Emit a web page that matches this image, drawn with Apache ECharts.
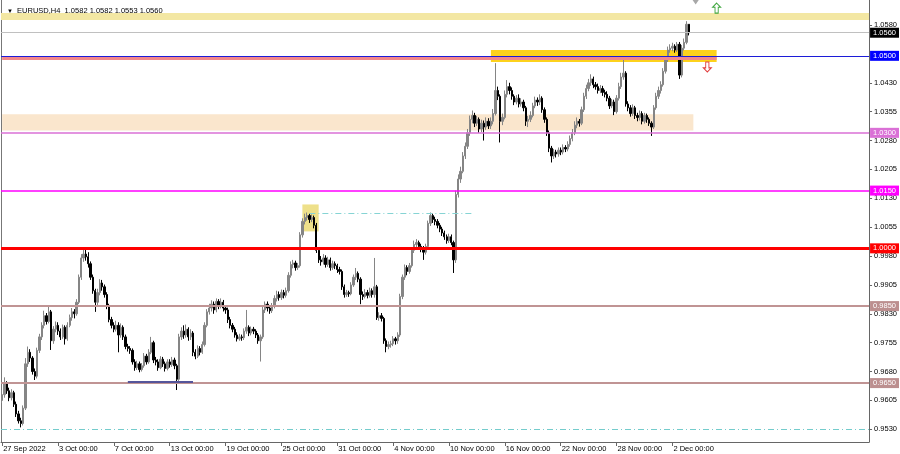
<!DOCTYPE html>
<html>
<head>
<meta charset="utf-8">
<script src="https://cdn.jsdelivr.net/npm/echarts@6/dist/echarts.min.js"></script>
<style>html,body{margin:0;padding:0;background:#fff}#chart{width:900px;height:454px}</style>
</head>
<body>
<div id="chart"></div>
<script>
// ---- DATA ----
const headerText = 'EURUSD,H4  1.0582 1.0582 1.0553 1.0560';
// x tick labels, one every 24 H4 bars (4 trading days)
const xTickLabels = ['27 Sep 2022','3 Oct 00:00','7 Oct 00:00','13 Oct 00:00','19 Oct 00:00','25 Oct 00:00','31 Oct 00:00','4 Nov 00:00','10 Nov 00:00','16 Nov 00:00','22 Nov 00:00','28 Nov 00:00','2 Dec 00:00'];
const yTickValues = [0.9530,0.9605,0.9680,0.9755,0.9830,0.9905,0.9980,1.0055,1.0130,1.0205,1.0280,1.0355,1.0430,1.0580];
// H4 candles [open, close, low, high]
const bars = [
[0.9605,0.9620,0.9598,0.9632],[0.9620,0.9648,0.9612,0.9665],[0.9648,0.9630,0.9622,0.9655],[0.9630,0.9612,0.9603,0.9638],[0.9612,0.9625,0.9605,0.9634],[0.9625,0.9595,0.9588,0.9630],
[0.9595,0.9570,0.9562,0.9602],[0.9570,0.9552,0.9545,0.9578],[0.9552,0.9545,0.9535,0.9560],[0.9545,0.9585,0.9540,0.9592],[0.9585,0.9700,0.9580,0.9715],[0.9700,0.9730,0.9692,0.9745],
[0.9730,0.9715,0.9705,0.9738],[0.9715,0.9680,0.9672,0.9720],[0.9680,0.9668,0.9658,0.9688],[0.9668,0.9735,0.9662,0.9742],[0.9735,0.9770,0.9728,0.9778],[0.9770,0.9800,0.9762,0.9808],
[0.9800,0.9825,0.9792,0.9838],[0.9825,0.9810,0.9802,0.9832],[0.9810,0.9835,0.9805,0.9848],[0.9835,0.9760,0.9736,0.9840],[0.9760,0.9790,0.9752,0.9798],[0.9790,0.9800,0.9782,0.9810],
[0.9800,0.9785,0.9775,0.9808],[0.9785,0.9770,0.9762,0.9792],[0.9770,0.9795,0.9765,0.9802],[0.9795,0.9765,0.9750,0.9800],[0.9765,0.9800,0.9760,0.9808],[0.9800,0.9820,0.9795,0.9828],
[0.9820,0.9835,0.9812,0.9845],[0.9835,0.9830,0.9818,0.9842],[0.9830,0.9860,0.9825,0.9868],[0.9860,0.9925,0.9855,0.9932],[0.9925,0.9975,0.9918,0.9985],[0.9975,0.9985,0.9965,0.9999],
[0.9985,0.9978,0.9968,0.9996],[0.9978,0.9960,0.9950,0.9990],[0.9960,0.9925,0.9918,0.9966],[0.9925,0.9890,0.9882,0.9932],[0.9890,0.9860,0.9835,0.9895],[0.9860,0.9885,0.9852,0.9895],
[0.9885,0.9910,0.9878,0.9920],[0.9910,0.9900,0.9890,0.9918],[0.9900,0.9880,0.9872,0.9906],[0.9880,0.9850,0.9842,0.9886],[0.9850,0.9815,0.9808,0.9856],[0.9815,0.9800,0.9792,0.9822],
[0.9800,0.9790,0.9782,0.9808],[0.9790,0.9800,0.9784,0.9812],[0.9800,0.9775,0.9730,0.9808],[0.9775,0.9795,0.9768,0.9805],[0.9795,0.9770,0.9762,0.9800],[0.9770,0.9745,0.9738,0.9776],
[0.9745,0.9740,0.9732,0.9752],[0.9740,0.9735,0.9726,0.9746],[0.9735,0.9705,0.9698,0.9740],[0.9705,0.9690,0.9682,0.9712],[0.9690,0.9700,0.9684,0.9708],[0.9700,0.9685,0.9678,0.9706],
[0.9685,0.9695,0.9680,0.9702],[0.9695,0.9720,0.9690,0.9728],[0.9720,0.9705,0.9698,0.9726],[0.9705,0.9730,0.9700,0.9738],[0.9730,0.9755,0.9725,0.9770],[0.9755,0.9710,0.9702,0.9760],
[0.9710,0.9705,0.9696,0.9718],[0.9705,0.9690,0.9682,0.9712],[0.9690,0.9712,0.9686,0.9720],[0.9712,0.9700,0.9692,0.9718],[0.9700,0.9688,0.9680,0.9706],[0.9688,0.9705,0.9683,0.9712],
[0.9705,0.9698,0.9690,0.9712],[0.9698,0.9710,0.9692,0.9718],[0.9710,0.9695,0.9686,0.9716],[0.9695,0.9660,0.9632,0.9700],[0.9660,0.9770,0.9655,0.9778],[0.9770,0.9785,0.9762,0.9795],
[0.9785,0.9775,0.9765,0.9800],[0.9775,0.9790,0.9768,0.9802],[0.9790,0.9770,0.9760,0.9795],[0.9770,0.9780,0.9762,0.9790],[0.9780,0.9730,0.9720,0.9785],[0.9730,0.9720,0.9712,0.9738],
[0.9720,0.9740,0.9715,0.9748],[0.9740,0.9730,0.9722,0.9746],[0.9730,0.9750,0.9726,0.9758],[0.9750,0.9800,0.9745,0.9808],[0.9800,0.9835,0.9795,0.9842],[0.9835,0.9845,0.9828,0.9856],
[0.9845,0.9855,0.9836,0.9865],[0.9855,0.9840,0.9830,0.9862],[0.9840,0.9862,0.9834,0.9870],[0.9862,0.9850,0.9842,0.9868],[0.9850,0.9860,0.9844,0.9870],[0.9860,0.9845,0.9836,0.9866],
[0.9845,0.9840,0.9830,0.9852],[0.9840,0.9815,0.9806,0.9846],[0.9815,0.9800,0.9792,0.9822],[0.9800,0.9790,0.9782,0.9806],[0.9790,0.9775,0.9768,0.9796],[0.9775,0.9765,0.9758,0.9782],
[0.9765,0.9770,0.9760,0.9778],[0.9770,0.9768,0.9760,0.9776],[0.9768,0.9785,0.9762,0.9792],[0.9785,0.9795,0.9778,0.9840],[0.9795,0.9780,0.9772,0.9800],[0.9780,0.9790,0.9774,0.9797],
[0.9790,0.9785,0.9777,0.9796],[0.9785,0.9775,0.9767,0.9790],[0.9775,0.9760,0.9752,0.9780],[0.9760,0.9770,0.9706,0.9776],[0.9770,0.9840,0.9765,0.9848],[0.9840,0.9855,0.9832,0.9862],
[0.9855,0.9845,0.9836,0.9862],[0.9845,0.9838,0.9830,0.9852],[0.9838,0.9850,0.9832,0.9858],[0.9850,0.9870,0.9844,0.9878],[0.9870,0.9880,0.9862,0.9890],[0.9880,0.9872,0.9864,0.9888],
[0.9872,0.9885,0.9866,0.9893],[0.9885,0.9878,0.9870,0.9892],[0.9878,0.9890,0.9872,0.9898],[0.9890,0.9930,0.9885,0.9938],[0.9930,0.9958,0.9924,0.9966],[0.9958,0.9962,0.9948,0.9970],
[0.9962,0.9950,0.9942,0.9968],[0.9950,0.9955,0.9944,0.9962],[0.9955,1.0035,0.9950,1.0042],[1.0035,1.0070,1.0028,1.0078],[1.0070,1.0080,1.0062,1.0090],[1.0080,1.0085,1.0072,1.0093],
[1.0085,1.0075,1.0066,1.0090],[1.0075,1.0080,1.0068,1.0088],[1.0080,1.0060,1.0052,1.0085],[1.0060,0.9995,0.9988,1.0066],[0.9995,0.9970,0.9962,1.0002],[0.9970,0.9965,0.9955,0.9980],
[0.9965,0.9975,0.9958,0.9985],[0.9975,0.9958,0.9950,0.9982],[0.9958,0.9970,0.9952,0.9978],[0.9970,0.9950,0.9942,0.9976],[0.9950,0.9960,0.9944,0.9968],[0.9960,0.9955,0.9946,0.9966],
[0.9955,0.9945,0.9936,0.9960],[0.9945,0.9940,0.9932,0.9952],[0.9940,0.9900,0.9892,0.9945],[0.9900,0.9880,0.9872,0.9906],[0.9880,0.9885,0.9874,0.9892],[0.9885,0.9882,0.9874,0.9890],
[0.9882,0.9905,0.9878,0.9912],[0.9905,0.9925,0.9900,0.9932],[0.9925,0.9935,0.9918,0.9949],[0.9935,0.9920,0.9912,0.9940],[0.9920,0.9880,0.9855,0.9925],[0.9880,0.9875,0.9866,0.9888],
[0.9875,0.9885,0.9870,0.9894],[0.9885,0.9878,0.9870,0.9892],[0.9878,0.9890,0.9872,0.9898],[0.9890,0.9880,0.9872,0.9896],[0.9880,0.9900,0.9872,0.9975],[0.9900,0.9820,0.9814,0.9905],
[0.9820,0.9825,0.9812,0.9834],[0.9825,0.9818,0.9810,0.9832],[0.9818,0.9760,0.9752,0.9822],[0.9760,0.9745,0.9730,0.9766],[0.9745,0.9750,0.9738,0.9758],[0.9750,0.9752,0.9742,0.9760],
[0.9752,0.9765,0.9746,0.9772],[0.9765,0.9760,0.9750,0.9770],[0.9760,0.9775,0.9752,0.9782],[0.9775,0.9875,0.9770,0.9882],[0.9875,0.9925,0.9868,0.9932],[0.9925,0.9950,0.9918,0.9958],
[0.9950,0.9940,0.9930,0.9956],[0.9940,0.9955,0.9934,0.9962],[0.9955,0.9995,0.9950,1.0002],[0.9995,1.0010,0.9988,1.0020],[1.0010,1.0015,1.0002,1.0024],[1.0015,1.0005,0.9996,1.0020],
[1.0005,1.0000,0.9990,1.0012],[1.0000,0.9990,0.9970,1.0006],[0.9990,1.0005,0.9984,1.0012],[1.0005,1.0065,1.0000,1.0072],[1.0065,1.0085,1.0058,1.0093],[1.0085,1.0075,1.0066,1.0090],
[1.0075,1.0070,1.0060,1.0082],[1.0070,1.0060,1.0052,1.0076],[1.0060,1.0050,1.0042,1.0066],[1.0050,1.0040,1.0032,1.0056],[1.0040,1.0030,1.0022,1.0046],[1.0030,1.0020,1.0012,1.0036],
[1.0020,1.0030,1.0014,1.0038],[1.0030,1.0015,1.0008,1.0036],[1.0015,0.9970,0.9936,1.0020],[0.9970,1.0140,0.9962,1.0150],[1.0140,1.0180,1.0132,1.0192],[1.0180,1.0200,1.0170,1.0212],
[1.0200,1.0240,1.0195,1.0250],[1.0240,1.0265,1.0232,1.0275],[1.0265,1.0300,1.0258,1.0310],[1.0300,1.0335,1.0292,1.0345],[1.0335,1.0345,1.0325,1.0358],[1.0345,1.0325,1.0315,1.0352],
[1.0325,1.0335,1.0318,1.0344],[1.0335,1.0310,1.0300,1.0340],[1.0310,1.0325,1.0302,1.0334],[1.0325,1.0315,1.0280,1.0332],[1.0315,1.0330,1.0308,1.0340],[1.0330,1.0318,1.0310,1.0338],
[1.0318,1.0330,1.0310,1.0340],[1.0330,1.0350,1.0322,1.0362],[1.0350,1.0410,1.0345,1.0481],[1.0410,1.0395,1.0385,1.0420],[1.0395,1.0330,1.0275,1.0400],[1.0330,1.0340,1.0320,1.0350],
[1.0340,1.0400,1.0335,1.0410],[1.0400,1.0420,1.0392,1.0437],[1.0420,1.0410,1.0400,1.0430],[1.0410,1.0395,1.0386,1.0418],[1.0395,1.0380,1.0372,1.0400],[1.0380,1.0390,1.0374,1.0398],
[1.0390,1.0375,1.0366,1.0400],[1.0375,1.0380,1.0368,1.0390],[1.0380,1.0365,1.0356,1.0386],[1.0365,1.0330,1.0318,1.0370],[1.0330,1.0335,1.0315,1.0344],[1.0335,1.0345,1.0328,1.0356],
[1.0345,1.0370,1.0340,1.0378],[1.0370,1.0385,1.0364,1.0394],[1.0385,1.0380,1.0370,1.0392],[1.0380,1.0390,1.0372,1.0400],[1.0390,1.0360,1.0352,1.0395],[1.0360,1.0335,1.0326,1.0366],
[1.0335,1.0300,1.0292,1.0340],[1.0300,1.0260,1.0250,1.0306],[1.0260,1.0240,1.0223,1.0266],[1.0240,1.0250,1.0232,1.0258],[1.0250,1.0245,1.0236,1.0256],[1.0245,1.0255,1.0238,1.0262],
[1.0255,1.0250,1.0242,1.0262],[1.0250,1.0262,1.0244,1.0270],[1.0262,1.0258,1.0250,1.0268],[1.0258,1.0270,1.0252,1.0278],[1.0270,1.0285,1.0264,1.0293],[1.0285,1.0300,1.0278,1.0310],
[1.0300,1.0320,1.0294,1.0330],[1.0320,1.0330,1.0312,1.0340],[1.0330,1.0325,1.0316,1.0336],[1.0325,1.0360,1.0320,1.0368],[1.0360,1.0395,1.0354,1.0404],[1.0395,1.0415,1.0388,1.0425],
[1.0415,1.0430,1.0408,1.0440],[1.0430,1.0440,1.0422,1.0452],[1.0440,1.0425,1.0416,1.0446],[1.0425,1.0420,1.0412,1.0432],[1.0420,1.0410,1.0402,1.0428],[1.0410,1.0415,1.0403,1.0424],
[1.0415,1.0405,1.0396,1.0422],[1.0405,1.0400,1.0392,1.0412],[1.0400,1.0390,1.0382,1.0408],[1.0390,1.0370,1.0362,1.0396],[1.0370,1.0380,1.0364,1.0388],[1.0380,1.0355,1.0346,1.0386],
[1.0355,1.0390,1.0350,1.0398],[1.0390,1.0420,1.0384,1.0430],[1.0420,1.0445,1.0414,1.0456],[1.0445,1.0455,1.0438,1.0497],[1.0455,1.0375,1.0368,1.0460],[1.0375,1.0365,1.0356,1.0382],
[1.0365,1.0350,1.0342,1.0372],[1.0350,1.0365,1.0344,1.0374],[1.0365,1.0345,1.0336,1.0370],[1.0345,1.0340,1.0330,1.0352],[1.0340,1.0350,1.0332,1.0358],[1.0350,1.0330,1.0322,1.0356],
[1.0330,1.0345,1.0324,1.0352],[1.0345,1.0335,1.0326,1.0350],[1.0335,1.0325,1.0318,1.0340],[1.0325,1.0315,1.0292,1.0330],[1.0315,1.0365,1.0310,1.0372],[1.0365,1.0395,1.0360,1.0404],
[1.0395,1.0410,1.0388,1.0420],[1.0410,1.0425,1.0402,1.0434],[1.0425,1.0460,1.0420,1.0468],[1.0460,1.0490,1.0454,1.0498],[1.0490,1.0515,1.0484,1.0524],[1.0515,1.0520,1.0508,1.0530],
[1.0520,1.0525,1.0512,1.0534],[1.0525,1.0515,1.0508,1.0530],[1.0515,1.0530,1.0510,1.0536],[1.0530,1.0450,1.0440,1.0536],[1.0450,1.0520,1.0444,1.0528],[1.0520,1.0535,1.0514,1.0545],
[1.0535,1.0582,1.0530,1.0590],[1.0582,1.0560,1.0553,1.0582]
];
// horizontal price levels (full width), with right-hand price tags
const levelPrices = [1.0560, 1.0500, 1.0300, 1.0150, 1.0000, 0.9850, 0.9650, 0.9530];
const levelTags   = ['1.0560','1.0500','1.0300','1.0150','1.0000','0.9850','0.9650',''];
// zones [top, bottom]
const topZone = [1.0611, 1.0593];
const supportZone = [1.0348, 1.0306];
const resistZone = [1.0515, 1.0484];
const peakBox = [1.0114, 1.0044];
// segment levels
const pinkLevel = 1.0493;
const dashSegLevel = 1.0092;
const lowSegLevel = 0.9654;
const upArrowPrice = 1.0624;
const downArrowPrice = 1.0471;
const shiftMarkPrice = 1.0640;

// ---- LAYOUT / STYLE ----
const TOTAL_SLOTS = 373;
const slots = [];
for (let i = 0; i < TOTAL_SLOTS; i++) slots.push(i);
const EVERY = 24;
const showTick = (i) => i % EVERY === 0 && i / EVERY < xTickLabels.length;
const FONT = 'Liberation Sans';
const levelStyles = [
  {color:'#c0c0c0', width:1, type:'solid', tagBg:'#000000'},
  {color:'#1c1cd8', width:1, type:'solid', tagBg:'#0000ff'},
  {color:'#da70d6', width:1.5, type:'solid', tagBg:'#da70d6'},
  {color:'#ff00ff', width:1.5, type:'solid', tagBg:'#ff00ff'},
  {color:'#ff0000', width:3, type:'solid', tagBg:'#ff0000'},
  {color:'#c09494', width:2, type:'solid', tagBg:'#bc8f8f'},
  {color:'#c09494', width:2, type:'solid', tagBg:'#bc8f8f'},
  {color:'#74cccc', width:1, type:[6,3,1,3], tagBg:null}
];

const levelLines = levelPrices.map((p, k) => {
  const s = levelStyles[k];
  return {
    yAxis: p,
    lineStyle: {color: s.color, width: s.width, type: s.type},
    label: levelTags[k] ? {
      show: true, position: 'end', distance: 1, formatter: levelTags[k],
      backgroundColor: s.tagBg, color: '#fff', padding: [1, 3, 0, 3],
      fontSize: 7.5, fontFamily: FONT, lineHeight: 9
    } : {show: false}
  };
});

const pinkSeg = [{coord:[0, pinkLevel], lineStyle:{color:'#f2878a', width:3, type:'solid'}, label:{show:false}}, {coord:[307, pinkLevel]}];
const otherSegs = [
  [{coord:[132, dashSegLevel], lineStyle:{color:'#86d4d4', width:1, type:[6,3,1,3]}, label:{show:false}}, {coord:[202, dashSegLevel]}],
  [{coord:[54, lowSegLevel], lineStyle:{color:'#55559a', width:2, type:'solid'}, label:{show:false}}, {coord:[82, lowSegLevel]}]
];

const option = {
  animation: false,
  backgroundColor: '#ffffff',
  title: {
    text: '{t|▼}  ' + headerText,
    left: 2, top: 2,
    textStyle: {fontSize: 7.5, fontWeight: 'normal', color: '#000', fontFamily: FONT,
      rich: {t: {fontSize: 6, color: '#000'}}}
  },
  grid: {left: 1, right: 30, top: 0, bottom: 12},
  xAxis: {
    type: 'category', data: slots, boundaryGap: true,
    axisLine: {show: true, lineStyle: {color: '#666', width: 1}},
    axisTick: {show: true, interval: (i) => showTick(i), alignWithLabel: true, length: 4, lineStyle: {color: '#666'}},
    axisLabel: {
      interval: (i) => showTick(i),
      formatter: (v, i) => xTickLabels[i / EVERY] || '',
      align: 'left', fontSize: 7.5, fontFamily: FONT, color: '#000', margin: 3, padding: [0, 0, 0, 1]
    },
    splitLine: {show: false}
  },
  yAxis: [{
    type: 'value', position: 'right', min: 0.9497, max: 1.0645,
    axisLine: {show: true, lineStyle: {color: '#666'}},
    axisTick: {show: true, length: 3, customValues: yTickValues, lineStyle: {color: '#666'}},
    axisLabel: {customValues: yTickValues, formatter: (v) => v.toFixed(4), fontSize: 7.5, fontFamily: FONT, color: '#000', margin: 5},
    splitLine: {show: false}
  }, {
    type: 'value', position: 'left', min: 0.9497, max: 1.0645,
    axisLine: {show: true, lineStyle: {color: '#777'}},
    axisTick: {show: false}, axisLabel: {show: false}, splitLine: {show: false}
  }],
  series: [
    {
      name: 'zones', type: 'line', data: [], z: 1, silent: true, clip: false,
      markArea: {
        silent: true, precision: 4,
        data: [
          [{yAxis: topZone[0], itemStyle: {color: '#f3e7a3'}}, {yAxis: topZone[1]}],
          [{coord: [0, supportZone[0]], itemStyle: {color: '#fae6cd'}}, {coord: [297, supportZone[1]]}],
          [{coord: [210, resistZone[0]], itemStyle: {color: '#fdd21c'}}, {coord: [307, resistZone[1]]}],
          [{coord: [129, peakBox[0]], itemStyle: {color: '#eee08a'}}, {coord: [136, peakBox[1]]}]
        ]
      }
    },
    {
      name: 'EURUSD', type: 'candlestick', data: bars, z: 2, barWidth: 1.8,
      itemStyle: {color: '#858585', color0: '#000000', borderColor: '#858585', borderColor0: '#000000', borderWidth: 1}
    },
    {
      name: 'levels', type: 'line', data: [], z: 3, silent: true, clip: false,
      markLine: {
        silent: true, precision: 4, symbol: ['none', 'none'],
        data: [pinkSeg].concat(levelLines, otherSegs)
      },
      markPoint: {
        silent: true, precision: 4,
        label: {show: false},
        data: [
          {coord: [307, upArrowPrice], symbol: 'path://M5,0L10,5L7,5L7,12L3,12L3,5L0,5Z', symbolSize: [8, 10],
            itemStyle: {color: '#ffffff', borderColor: '#3ea63e', borderWidth: 1}},
          {coord: [303, downArrowPrice], symbol: 'path://M3,0L7,0L7,7L10,7L5,12L0,7L3,7Z', symbolSize: [8, 10],
            itemStyle: {color: '#ffffff', borderColor: '#e03c3c', borderWidth: 1}},
          {coord: [298, shiftMarkPrice], symbol: 'triangle', symbolRotate: 180, symbolSize: [7, 5],
            itemStyle: {color: '#a8a8a8'}}
        ]
      }
    }
  ]
};

const chart = echarts.init(document.getElementById('chart'), null, {renderer: 'canvas'});
chart.setOption(option);
</script>
</body>
</html>
